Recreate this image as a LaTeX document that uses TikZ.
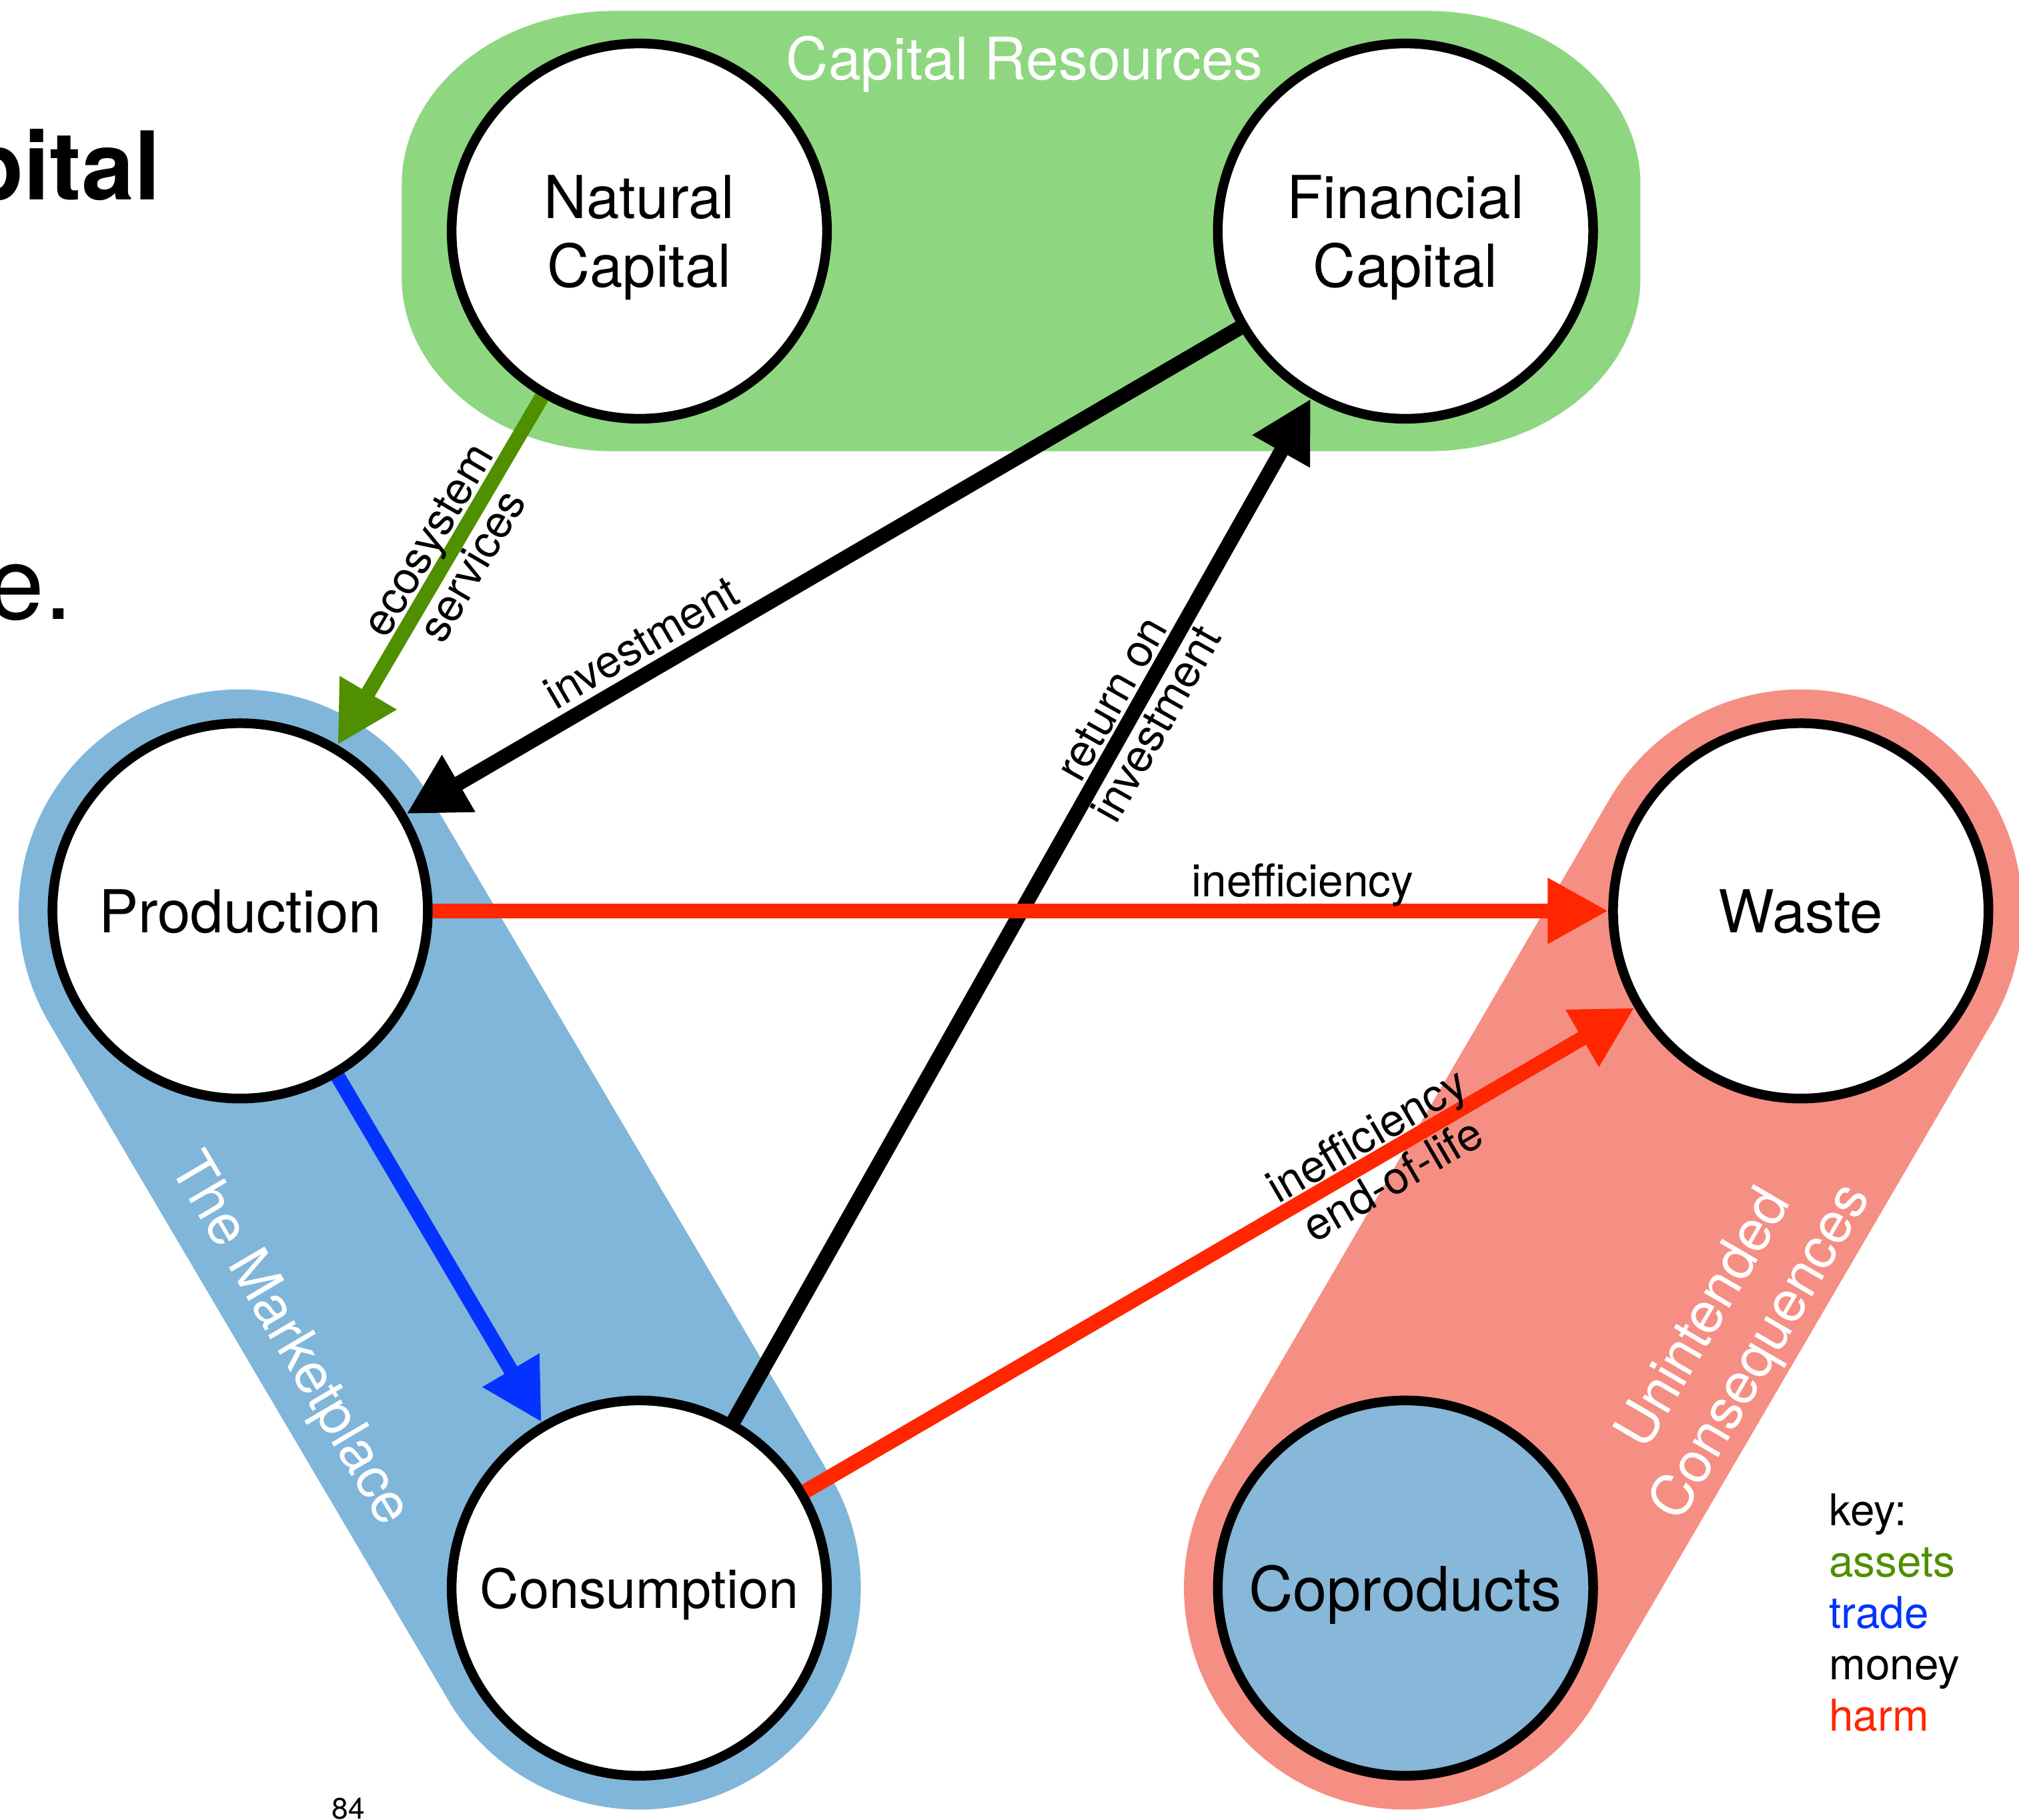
\documentclass[tikz,border=0pt]{standalone}
\usepackage{fontspec}
\setmainfont{TeX Gyre Heros}
\usetikzlibrary{arrows.meta}
\definecolor{cGreenBand}{HTML}{8ED780}
\definecolor{cBlueBand}{HTML}{80B6DA}
\definecolor{cRedBand}{HTML}{F58F84}
\definecolor{cCopr}{HTML}{87B7D9}
\definecolor{cAssets}{HTML}{4F8F00}
\definecolor{cTrade}{HTML}{0433FF}
\definecolor{cHarm}{HTML}{FF2600}
\tikzset{
  circ/.style={circle, draw=black, line width=3.75pt, fill=white, minimum size=145.75pt,
    inner sep=0pt, font=\fontsize{23}{26.5}\selectfont, align=center, text depth=0pt},
  band/.style={line width=172pt, line cap=round},
  flow/.style={line width=5.75pt, -{Triangle[length=23.5pt,width=24pt]}},
  lbl/.style={font=\fontsize{17.5}{20}\selectfont, sloped, align=center, inner sep=0pt, outer sep=0pt, text=black},
  lblabove/.style={lbl, anchor=south, text depth=0pt, inner sep=5.5pt},
  grouplbl/.style={text=white, font=\fontsize{22}{25.5}\selectfont, align=center, inner sep=0pt, outer sep=0pt}
}
\begin{document}
\begin{tikzpicture}[x=0.5pt,y=-0.5pt]
\useasboundingbox (0,0) rectangle (1568,1413.6);
% centres
\coordinate (pNat) at (496.5,179.5);
\coordinate (pFin) at (1091.5,179.5);
\coordinate (pProd) at (186.5,707.5);
\coordinate (pCons) at (496.5,1233.5);
\coordinate (pWaste) at (1398.5,707.5);
\coordinate (pCopr) at (1091.5,1233.5);
% group bands
\fill[cGreenBand] (477,8.5) -- (1109,8.5)
  arc[start angle=-90,end angle=0,x radius=165,y radius=135] -- (1274,215.5)
  arc[start angle=0,end angle=90,x radius=165,y radius=135] -- (477,350.5)
  arc[start angle=90,end angle=180,x radius=165,y radius=135] -- (312,143.5)
  arc[start angle=180,end angle=270,x radius=165,y radius=135] -- cycle;
\draw[band, cBlueBand] (pProd) -- (pCons);
\draw[band, cRedBand] (pWaste) -- (pCopr);
% group labels
\node[grouplbl, font=\fontsize{22.7}{26}\selectfont, text depth=0pt] (capres) at (795.75,45) {Capital Resources};
\node[grouplbl, rotate=-59.5] (market) at (224,1041) {The Marketplace};
\node[grouplbl, rotate=59.7] (unint) at (1347,1038) {Unintended\\Consequences};
% circles
\node[circ] (nat) at (pNat) {Natural\\Capital};
\node[circ] (fin) at (pFin) {Financial\\Capital};
\node[circ] (prod) at (pProd) {Production};
\node[circ, font=\fontsize{21}{24}\selectfont] (cons) at (pCons) {Consumption};
\node[circ] (waste) at (pWaste) {Waste};
\node[circ, fill=cCopr, font=\fontsize{23.8}{27}\selectfont] (copr) at (pCopr) {Coproducts};
% connectors
\draw[flow, draw=cAssets] (nat) -- node[lbl, pos=0.448] (lEco) {ecosystem\\services} (prod);
\draw[flow, draw=black] (fin) -- node[lblabove, pos=0.70] (lInv) {investment} (prod);
\draw[flow, draw=black] (cons) -- node[lbl, pos=0.694] (lRoi) {return on\\investment} (fin);
\draw[flow, draw=cHarm] (prod) -- node[lblabove, pos=0.74] (lIneff) {inefficiency} (waste);
\draw[flow, draw=cHarm] (cons) -- node[lbl, pos=0.692] (lEol) {inefficiency\\end-of-life} (waste);
\draw[flow, draw=cTrade] (prod) -- (cons);
% key
\node[anchor=north west, inner sep=0pt, align=left, font=\fontsize{17}{20}\selectfont] (key) at (1420.2,1159.5)
  {key:\\\textcolor{cAssets}{assets}\\\textcolor{cTrade}{trade}\\money\\\textcolor{cHarm}{harm}};
% slide fragments at the edges
\node[anchor=base west, inner sep=0pt, font=\bfseries\fontsize{36.8}{40}\selectfont] (frag1) at (-27,155) {pital};
\node[anchor=base west, inner sep=0pt, font=\fontsize{39.6}{44}\selectfont] (frag2) at (-10,481) {e.};
\node[anchor=base west, inner sep=0pt, font=\fontsize{11.5}{13}\selectfont] (pagenum) at (257.5,1413) {84};
\end{tikzpicture}
\end{document}
